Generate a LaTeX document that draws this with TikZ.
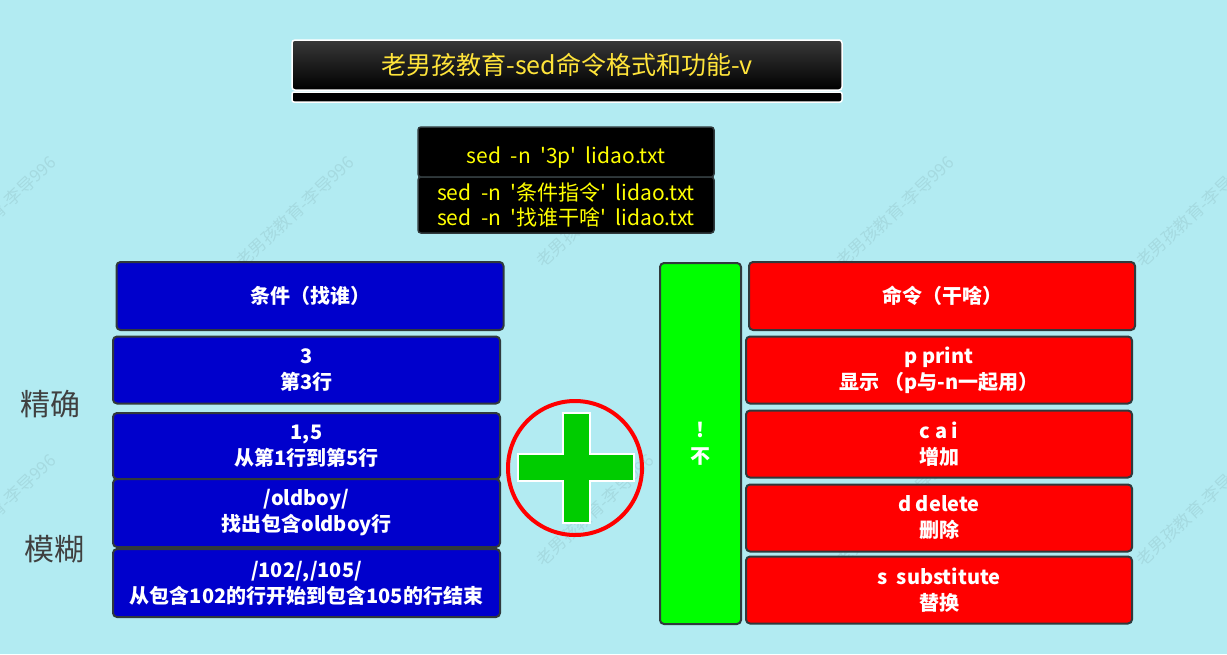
\documentclass[tikz,border=0pt]{standalone}
\usepackage{fontspec}
\setmainfont{Noto Sans CJK SC}
\definecolor{bgc}{HTML}{B2EBF2}
\definecolor{edgec}{HTML}{30393C}
\definecolor{bluec}{HTML}{0000CC}
\definecolor{redc}{HTML}{FF0000}
\definecolor{greenc}{HTML}{00FF00}
\definecolor{plusc}{HTML}{00CC00}
\definecolor{titley}{HTML}{FFE43A}
\definecolor{cmdy}{HTML}{FFFF00}
\definecolor{sidec}{HTML}{404040}
\tikzset{
  x=1pt,y=-1pt,
  box/.style={draw=edgec, line width=2pt, rounded corners=4pt, text=white,
    align=center, inner sep=0pt, font=\fontsize{20}{26}\selectfont\bfseries},
  bluebox/.style={box, fill=bluec, minimum width=387, minimum height=67},
  redbox/.style={box, fill=redc, minimum width=386, minimum height=67},
  cmdbox/.style={draw=edgec, line width=1.5pt, rounded corners=3pt, fill=black,
    text=cmdy, align=center, inner sep=0pt, minimum width=296,
    font=\fontsize{21}{25}\selectfont},
  sidelabel/.style={text=sidec, font=\fontsize{30}{32}\selectfont},
  wmark/.style={text=black, text opacity=0.07, rotate=43,
    font=\fontsize{17}{17}\selectfont}
}
\begin{document}
\begin{tikzpicture}
\useasboundingbox (0,0) rectangle (1227,654);
\fill[bgc] (0,0) rectangle (1227,654);
% watermarks
\foreach \wx in {-3,295,595,895,1195}{
  \node[wmark] at (\wx,212) {老男孩教育-李导996};
  \node[wmark] at (\wx,510) {老男孩教育-李导996};
}
% title
\node[draw=white, line width=1.5pt, rounded corners=3pt, top color=black!78, bottom color=black,
  minimum width=550, minimum height=50, inner sep=0pt, text=titley,
  font=\fontsize{25}{27}\selectfont] (title) at (567,65) {老男孩教育-sed命令格式和功能-v};
\node[draw=white, line width=1.5pt, rounded corners=2pt, fill=black,
  minimum width=550, minimum height=10, inner sep=0pt] (titlestrip) at (567,97) {};
% command box
\node[cmdbox, minimum height=50] (cmdtop) at (566,152) {\raisebox{-6pt}[16pt][5pt]{sed\ \ -n\ \ \textquotesingle 3p\textquotesingle\ \ lidao.txt}};
\node[cmdbox, minimum height=56] (cmdbot) at (566,205) {sed\ \ -n\ \ \textquotesingle 条件指令\textquotesingle\ \ lidao.txt\\sed\ \ -n\ \ \textquotesingle 找谁干啥\textquotesingle\ \ lidao.txt};
% blue column
\node[bluebox, minimum height=68] (cond) at (310,296) {条件（找谁）};
\node[bluebox] (c3) at (306.5,370) {3\\第3行};
\node[bluebox, minimum height=66] (c15) at (306.5,446) {1,5\\从第1行到第5行};
\node[bluebox, minimum height=68] (cold) at (306.5,513) {/oldboy/\\找出包含oldboy行};
\node[bluebox, minimum height=68] (crange) at (306.5,583) {/102/,/105/\\从包含102的行开始到包含105的行结束};
% side labels
\node[sidelabel] (exact) at (50,404) {精确};
\node[sidelabel] (fuzzy) at (54,549) {模糊};
% plus in circle
\node[draw=redc, line width=4pt, circle, minimum size=134, inner sep=0pt] (pluscircle) at (575,468) {};
\draw[fill=plusc, draw=white, line width=1.5pt]
  (563,413) -- (590,413) -- (590,454) -- (634,454) -- (634,481) -- (590,481)
  -- (590,523) -- (563,523) -- (563,481) -- (518,481) -- (518,454) -- (563,454) -- cycle;
% green column
\node[box, fill=greenc, minimum width=81, minimum height=361] (notcol) at (700.5,443.5) {!\\不};
% red column
\node[redbox, minimum height=68] (cmd) at (942,296) {命令（干啥）};
\node[redbox] (cp) at (939,370) {p print\\显示 （p与-n一起用）};
\node[redbox] (cai) at (939,444) {c a i\\增加};
\node[redbox] (cd) at (939,518) {d delete\\删除};
\node[redbox] (cs) at (939,590) {s\ \ substitute\\替换};
\end{tikzpicture}
\end{document}
